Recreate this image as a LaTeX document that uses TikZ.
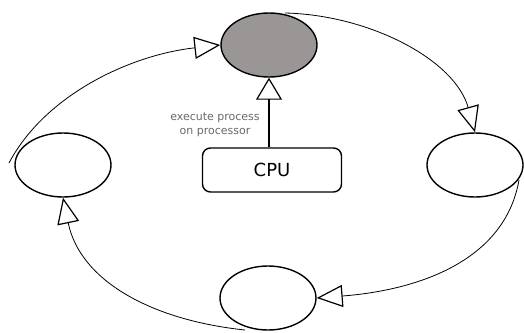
\documentclass[tikz,border=0pt]{standalone}
\usepackage{fontspec}
\setmainfont{DejaVu Sans}
\usetikzlibrary{arrows.meta,shapes.geometric}
\definecolor{procgray}{RGB}{154,150,150}
\definecolor{labelgray}{RGB}{105,105,105}
\begin{document}
\begin{tikzpicture}[x=1pt,y=-1pt,
  state/.style={draw, ellipse, line width=1.4pt, minimum width=96pt, minimum height=64pt, inner sep=0pt},
  flow/.style={line width=0.8pt, -{Triangle[open, length=26pt, width=22pt, line width=1.2pt]}}]
\useasboundingbox (0,0) rectangle (524,332);
\node[state, fill=procgray] (T) at (269,45) {};
\node[state] (L) at (63,165) {};
\node[state] (R) at (475,165) {};
\node[state] (B) at (268,298) {};
\node[draw, rounded corners=8pt, line width=1.4pt, minimum width=139pt, minimum height=44pt, font=\fontsize{18}{20}\selectfont] (C) at (272,170) {CPU};
\coordinate (ls) at (9,163);
\coordinate (ts) at (285,13);
\coordinate (rs) at (519,180);
\coordinate (bs) at (245,330);
\draw[flow] (ls) .. controls (45,95) and (130,55) .. (T.west);
\draw[flow] (ts) .. controls (370,15) and (455,60) .. (R.north);
\draw[flow] (rs) .. controls (505,260) and (420,290) .. (B.east);
\draw[flow] (bs) .. controls (150,320) and (80,280) .. (L.south);
\draw[line width=1.2pt, -{Triangle[open, length=22pt, width=26pt, line width=1.2pt]}] (C.north -| T.south) -- (T.south);
\node[text=labelgray, font=\fontsize{11}{14}\selectfont, align=center] (lab) at (215,125) {execute process\\on processor};
\end{tikzpicture}
\end{document}
